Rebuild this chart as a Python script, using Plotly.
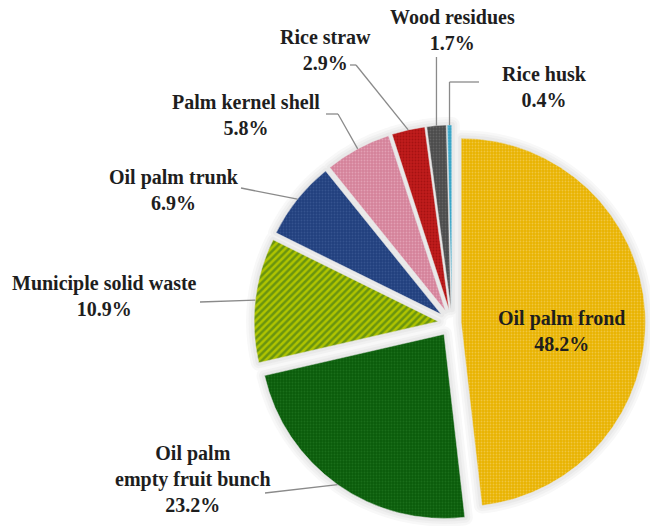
import math
import plotly.graph_objects as go

# ---- data ----
categories = ["Oil palm frond", "Oil palm empty fruit bunch", "Municiple solid waste",
              "Oil palm trunk", "Palm kernel shell", "Rice straw", "Wood residues", "Rice husk"]
shares = [48.2, 23.2, 10.9, 6.9, 5.8, 2.9, 1.7, 0.4]
label_text = ["Oil palm frond", "Oil palm<br>empty fruit bunch", "Municiple solid waste",
              "Oil palm trunk", "Palm kernel shell", "Rice straw", "Wood residues", "Rice husk"]

# ---- style ----
W, H = 650, 526
pulls = [0.05, 0.075, 0.075, 0.075, 0.075, 0.075, 0.075, 0.075]
bg = ["#E9B300", "#0B5C0B", "#AFC400", "#21407E", "#D4829A", "#C01C1C", "#4B4B4B", "#38A4C6"]
fg = ["#F0C640", "#1A6E1A", "#6A9410", "#35538F", "#E3A0B4", "#A51212", "#636363", "#5AB8D6"]
shapes_pat = [".", ".", "/", ".", ".", ".", ".", "."]
sizes = [3, 3, 5, 3, 3, 3, 3, 3]
solid = [0.3, 0.3, 0.5, 0.3, 0.3, 0.3, 0.3, 0.3]
FONT = "Liberation Serif, Times New Roman, serif"

cx_px, cy_px = 452, 323
maxpull = max(pulls)
half = 198
r = half / (1 + maxpull)
dom_x = [(cx_px - half) / W, min(1.0, (cx_px + half) / W)]
dom_y = [max(0.0, 1 - (cy_px + half) / H), 1 - (cy_px - half) / H]
n = len(shares)

fig = go.Figure()
# soft shadow / glow behind the slices
for lw, col in [(16, "#f8f8f8"), (11, "#f1f1f1"), (6, "#e9e9e9")]:
    fig.add_trace(go.Pie(
        labels=categories, values=shares, sort=False, direction="clockwise", rotation=0,
        pull=pulls, textinfo="none", hoverinfo="skip", domain=dict(x=dom_x, y=dom_y),
        marker=dict(colors=[col] * n, line=dict(color=col, width=lw)), showlegend=False))

fig.add_trace(go.Pie(
    labels=categories, values=shares, sort=False, direction="clockwise", rotation=0,
    pull=pulls, textinfo="none", hoverinfo="label+percent",
    domain=dict(x=dom_x, y=dom_y),
    marker=dict(colors=bg, line=dict(color="#e6e6e6", width=0.5),
                pattern=dict(shape=shapes_pat, fgcolor=fg, bgcolor=bg,
                             size=sizes, solidity=solid, fillmode="replace")),
    showlegend=False,
))

label_pos = [(561, 331), (193, 479), (104, 296), (174, 190), (246, 115),
             (326, 50), (452, 30), (544, 87)]
leaders = [None, [(265, 493)], [(200, 302)], [(241, 188)], [(326, 114), (338, 114)],
           [(350, 65), (356, 65)], "vertical57", [(479, 82), "elbow82"]]

total = sum(shares)
cum = 0.0
ann = []
shp = []
lc = "#8a8a8a"
for i, v in enumerate(shares):
    mid = (cum + v / 2) / total * 2 * math.pi
    cum += v
    R = r * (1 + pulls[i])
    ex = cx_px + R * math.sin(mid)
    ey = cy_px - R * math.cos(mid)
    lx, ly = label_pos[i]
    ann.append(dict(x=lx / W, y=1 - ly / H, xref="paper", yref="paper", showarrow=False,
                    text="<b>%s<br>%.1f%%</b>" % (label_text[i], v),
                    font=dict(family=FONT, size=20, color="#1e1e1e"),
                    align="center", xanchor="center", yanchor="middle"))
    ld = leaders[i]
    if ld is None:
        continue
    if ld == "vertical57":
        pts = [(ex, 57), (ex, ey)]
    else:
        pts = []
        for p in ld:
            if p == "elbow82":
                pts.append((ex, 82))
            else:
                pts.append(p)
        pts.append((ex, ey))
    for (x0, y0), (x1, y1) in zip(pts[:-1], pts[1:]):
        shp.append(dict(type="line", xref="paper", yref="paper",
                        x0=x0 / W, y0=1 - y0 / H, x1=x1 / W, y1=1 - y1 / H,
                        line=dict(color=lc, width=1.3)))

fig.update_layout(width=W, height=H, margin=dict(l=0, r=0, t=0, b=0),
                  paper_bgcolor="white", plot_bgcolor="white",
                  annotations=ann, shapes=shp)
fig.write_html("out.html")
